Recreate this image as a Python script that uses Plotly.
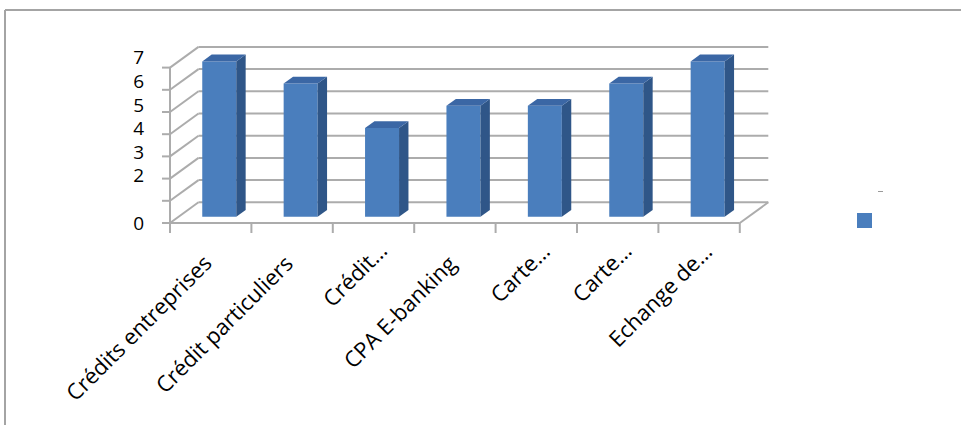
import plotly.graph_objects as go

# ---- data -------------------------------------------------------------
categories = [
    "Crédits entreprises",
    "Crédit particuliers",
    "Crédit…",
    "CPA E-banking",
    "Carte…",
    "Carte…",
    "Echange de…",
]
values = [7, 6, 4, 5, 5, 6, 7]
y_ticks = [0, 1, 2, 3, 4, 5, 6, 7]
y_ticktext = ["0", "", "2", "3", "4", "5", "6", "7"]

# ---- geometry (pixels of the 961x425 canvas) ----------------------------
W, H = 961, 425
ORIGIN_X, ORIGIN_Y = 170.0, 223.0   # front-left corner of the floor
CAT_PX = 81.4                        # width of one category
UNIT_PX = 22.2                       # height of one value unit (front plane)
LABEL_UNIT_PX = 23.6                 # spacing of the value labels
DEPTH_X_PX, DEPTH_Y_PX = 28.5, 20.7  # oblique depth offset of the box

DX = DEPTH_X_PX / CAT_PX
DY = DEPTH_Y_PX / UNIT_PX
BAR_W = 34 / CAT_PX
D_FRONT, D_BACK = 0.30, 0.63

FRONT = "#4a7ebd"
SIDE = "#2f5688"
TOP = "#3b67a5"
GRID = "#acacac"
FONT = "Open Sans"

n = len(categories)


def u_of(px):
    return (px - ORIGIN_X) / CAT_PX


def v_of(py):
    return (ORIGIN_Y - py) / UNIT_PX


def paper_x(px):
    return px / W


def paper_y(py):
    return 1 - py / H


fig = go.Figure()

# ---- 3D columns --------------------------------------------------------
for i, h in enumerate(values):
    cx = i + 0.5
    fx0 = cx - BAR_W / 2 + D_FRONT * DX
    fx1 = cx + BAR_W / 2 + D_FRONT * DX
    fy = D_FRONT * DY
    bx0 = cx - BAR_W / 2 + D_BACK * DX
    bx1 = cx + BAR_W / 2 + D_BACK * DX
    by = D_BACK * DY
    faces = [
        ([fx0, fx1, fx1, fx0, fx0], [fy, fy, h + fy, h + fy, fy], FRONT),
        ([fx1, bx1, bx1, fx1, fx1], [fy, by, h + by, h + fy, fy], SIDE),
        ([fx0, fx1, bx1, bx0, fx0], [h + fy, h + fy, h + by, h + by, h + fy], TOP),
    ]
    for xs, ys, col in faces:
        fig.add_trace(go.Scatter(
            x=xs, y=ys, mode="lines", fill="toself", fillcolor=col,
            line=dict(width=0, color=col), hoverinfo="skip", showlegend=False,
        ))

# invisible trace so the label axis is drawn
fig.add_trace(go.Scatter(x=[0], y=[0], yaxis="y2", mode="markers",
                         marker=dict(opacity=0), hoverinfo="skip",
                         showlegend=False))

# ---- walls, floor and gridlines -----------------------------------------
shapes = []
line = dict(color=GRID, width=2)
for v in y_ticks:
    # back wall
    shapes.append(dict(type="line", xref="x", yref="y", layer="below",
                       x0=DX, y0=v + DY, x1=n + DX, y1=v + DY, line=line))
    # side wall
    shapes.append(dict(type="line", xref="x", yref="y", layer="below",
                       x0=0, y0=v, x1=DX, y1=v + DY, line=line))
    # value tick marks
    shapes.append(dict(type="line", xref="x", yref="y", layer="below",
                       x0=u_of(ORIGIN_X - 8), y0=v, x1=0, y1=v, line=line))
tick_drop = 10 / UNIT_PX
shapes.append(dict(type="line", xref="x", yref="y", layer="below",
                   x0=0, y0=-tick_drop, x1=0, y1=max(y_ticks), line=line))
# floor
shapes.append(dict(type="line", xref="x", yref="y", layer="below",
                   x0=0, y0=0, x1=n, y1=0, line=line))
shapes.append(dict(type="line", xref="x", yref="y", layer="below",
                   x0=n, y0=0, x1=n + DX, y1=DY, line=line))
for i in range(n + 1):
    shapes.append(dict(type="line", xref="x", yref="y", layer="below",
                       x0=i, y0=0, x1=i, y1=-tick_drop, line=line))

# legend key
shapes.append(dict(type="rect", xref="paper", yref="paper", layer="above",
                   x0=paper_x(857), x1=paper_x(872),
                   y0=paper_y(228), y1=paper_y(213),
                   fillcolor=FRONT, line=dict(width=0)))
shapes.append(dict(type="line", xref="paper", yref="paper",
                   x0=paper_x(878), x1=paper_x(883),
                   y0=paper_y(191.5), y1=paper_y(191.5),
                   line=dict(color="#9a9a9a", width=1)))

# outer frame
frame = dict(color="#a4a4a4", width=2)
shapes.append(dict(type="line", xref="paper", yref="paper",
                   x0=paper_x(5), x1=1, y0=paper_y(10), y1=paper_y(10),
                   line=frame))
shapes.append(dict(type="line", xref="paper", yref="paper",
                   x0=paper_x(5), x1=paper_x(5), y0=paper_y(10), y1=0,
                   line=frame))

# ---- rotated category labels -------------------------------------------
# each label ends just below its category; truncated labels sit further out
annotations = []
for i, c in enumerate(categories):
    truncated = c.endswith("…")
    dx_px = 22 if truncated else 10
    top_px = ORIGIN_Y + (10 if truncated else 22)
    annotations.append(dict(
        xref="x", yref="y",
        x=i + 0.5 + dx_px / CAT_PX, y=v_of(top_px),
        text=c, showarrow=False, textangle=-45,
        xanchor="right", yanchor="top",
        font=dict(size=22, family=FONT, color="black"),
    ))

fig.update_layout(
    width=W, height=H,
    margin=dict(l=0, r=0, t=0, b=0),
    paper_bgcolor="white", plot_bgcolor="white",
    showlegend=False,
    shapes=shapes,
    annotations=annotations,
    font=dict(family=FONT, color="black"),
    xaxis=dict(
        range=[u_of(0), u_of(W)], showgrid=False, zeroline=False,
        showline=False, showticklabels=False, ticks="", automargin=False,
    ),
    yaxis=dict(
        range=[v_of(H), v_of(0)], showgrid=False, zeroline=False,
        showline=False, showticklabels=False, ticks="", automargin=False,
    ),
    yaxis2=dict(
        overlaying="y", anchor="free", position=paper_x(144), side="left",
        range=[(ORIGIN_Y - H) / LABEL_UNIT_PX, ORIGIN_Y / LABEL_UNIT_PX],
        tickvals=y_ticks, ticktext=y_ticktext,
        showgrid=False, zeroline=False, showline=False, ticks="",
        automargin=False,
        tickfont=dict(size=19, family=FONT, color="black"),
    ),
)

fig.write_html("out.html")
